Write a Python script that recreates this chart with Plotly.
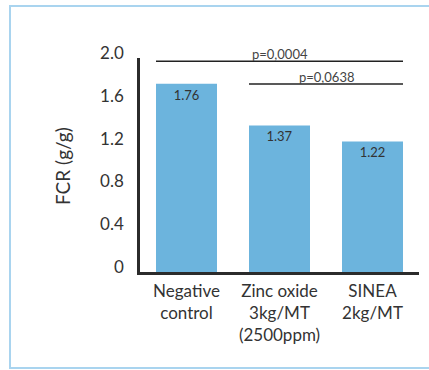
import plotly.graph_objects as go

# ---- data ----
categories = ["Negative<br>control", "Zinc oxide<br>3kg/MT<br>(2500ppm)", "SINEA<br>2kg/MT"]
fcr_values = [1.76, 1.37, 1.22]
bar_labels = ["1.76", "1.37", "1.22"]
y_tickvals = [0, 0.4, 0.8, 1.2, 1.6, 2.0]
y_ticktext = ["0", "0.4", "0.8", "1.2", "1.6", "2.0"]
p_texts = ["p=0,0004", "p=0,0638"]
p_from = [0, 1]
p_to = [2, 2]
p_heights = [1.97, 1.757]

# ---- style ----
W, H = 429, 370
ML, MR, MT, MB = 140, 10, 58, 98
PW, PH = W - ML - MR, H - MT - MB
BAR_W = 0.656
FONT = "Lato, 'Open Sans', sans-serif"
TXT = "#333333"
BAR_COLOR = "#6cb4dd"
BORDER = "#a9d4ef"


def px_x(p):
    return (p - ML) / PW


def px_y(p):
    return (H - MB - p) / PH


fig = go.Figure()
fig.add_trace(go.Bar(
    x=list(range(len(categories))),
    y=fcr_values,
    width=BAR_W,
    marker=dict(color=BAR_COLOR, line=dict(width=0)),
    text=bar_labels,
    textposition="inside",
    insidetextanchor="end",
    textangle=0,
    textfont=dict(family=FONT, size=13, color=TXT),
    hoverinfo="skip",
))

shapes = []
annotations = []
half = BAR_W / 2
for t, a, b, h in zip(p_texts, p_from, p_to, p_heights):
    shapes.append(dict(type="line", xref="x", yref="y", x0=a - half, x1=b + half,
                       y0=h, y1=h, line=dict(color="#222222", width=1.5)))
    annotations.append(dict(xref="x", yref="y", x=(a + b) / 2, y=h, text=t,
                            showarrow=False, yanchor="bottom", yshift=-3,
                            font=dict(family=FONT, size=13, color="#444444")))

# frame border
shapes.append(dict(type="rect", xref="paper", yref="paper",
                   x0=px_x(10), x1=px_x(440), y0=px_y(368), y1=px_y(6),
                   line=dict(color=BORDER, width=2), layer="below"))

# y axis title
annotations.append(dict(xref="paper", yref="paper", x=px_x(62), y=px_y(166),
                        text="FCR (g/g)", textangle=-90, showarrow=False,
                        xanchor="center", yanchor="middle",
                        font=dict(family=FONT, size=19, color=TXT)))

fig.update_layout(
    width=W, height=H,
    margin=dict(l=ML, r=MR, t=MT, b=MB, pad=0),
    paper_bgcolor="white", plot_bgcolor="white",
    showlegend=False,
    shapes=shapes,
    annotations=annotations,
    xaxis=dict(range=[-0.5, 2.5], tickvals=list(range(len(categories))),
               ticktext=categories, showline=True, linecolor="#2b2b2b",
               linewidth=2.5, showgrid=False, zeroline=False, ticks="",
               ticklabelstandoff=2,
               tickfont=dict(family=FONT, size=17, color=TXT), fixedrange=True),
    yaxis=dict(range=[0, 2.0], tickvals=y_tickvals, ticktext=y_ticktext,
               showline=True, linecolor="#2b2b2b", linewidth=2.5,
               showgrid=False, zeroline=False, ticks="",
               ticklabelstandoff=10, ticklabelshift=-5,
               tickfont=dict(family=FONT, size=17, color=TXT), fixedrange=True),
)

fig.write_html("out.html", config={"displayModeBar": False},
               post_script="document.body.style.margin='0';")
